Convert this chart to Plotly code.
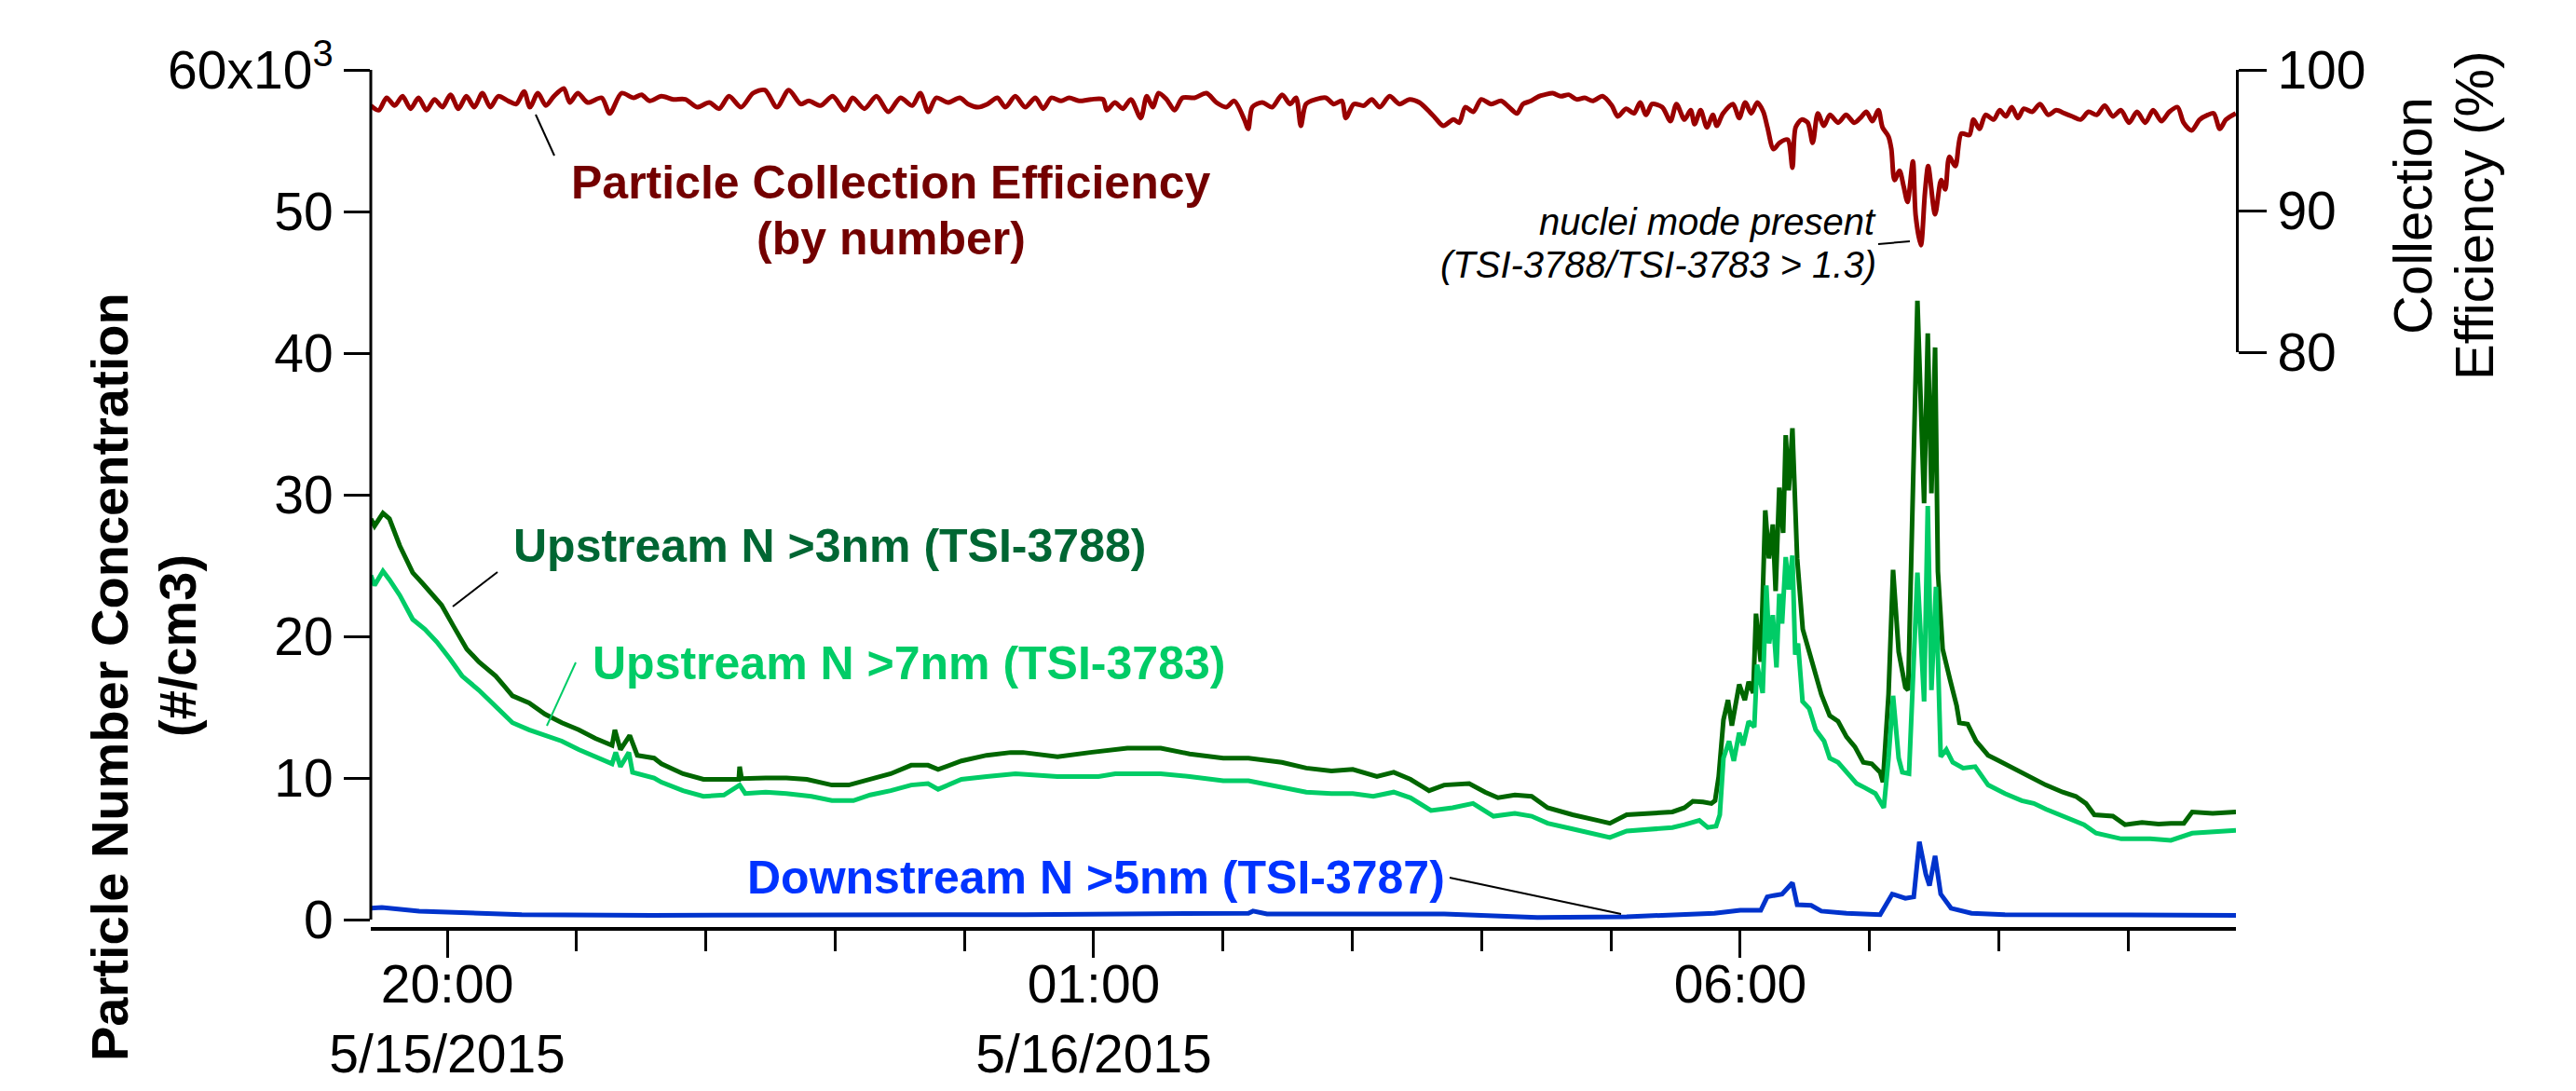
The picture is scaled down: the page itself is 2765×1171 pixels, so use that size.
import pandas as pd
import plotly.graph_objects as go

# ---------------- data (time = minutes after 2015-05-15 20:00) ----------------
T0 = pd.Timestamp("2015-05-15 20:00:00")

eff_min = [-35.4, -31.8, -28.1, -24.4, -20.7, -17.0, -13.3, -9.6, -5.9, -2.2, 1.5, 5.2, 8.9, 12.6, 16.3,
           20.0, 23.7, 28.3, 32.0, 35.7, 38.4, 42.1, 45.8, 49.5, 54.1, 56.9, 60.6, 65.2, 71.7, 75.4, 80.9,
           86.5, 90.2, 93.9, 99.4, 104.9, 110.5, 116.0, 121.6, 126.2, 130.8, 136.4, 141.9, 147.4, 153.0,
           158.5, 164.1, 167.8, 173.3, 178.9, 184.4, 188.1, 193.6, 199.2, 204.7, 210.3, 215.8, 219.5,
           223.2, 226.9, 232.4, 237.9, 241.7, 246.3, 250.7, 255.3, 259.0, 263.6, 268.2, 272.9, 276.6,
           280.3, 284.9, 288.6, 293.2, 298.7, 304.3, 306.1, 309.8, 313.5, 317.2, 321.8, 324.6, 327.4,
           330.1, 333.8, 337.5, 341.2, 346.8, 352.3, 356.9, 361.5, 365.2, 369.9, 371.7, 373.6, 378.2,
           382.8, 387.4, 391.1, 393.9, 396.1, 398.5, 403.1, 407.7, 411.4, 415.1, 417.0, 420.7, 425.3,
           429.0, 432.7, 437.3, 441.9, 446.5, 451.1, 455.8, 458.5, 462.2, 466.9, 469.6, 472.4, 476.1,
           479.8, 484.4, 489.0, 492.7, 496.4, 499.2, 502.9, 506.6, 509.3, 513.0, 516.7, 520.4, 524.1,
           527.8, 531.5, 536.1, 540.4, 543.2, 547.0, 550.7, 553.5, 556.3, 559.1, 563.8, 567.6, 570.4,
           574.1, 577.0, 578.8, 581.6, 584.5, 587.3, 589.1, 592.0, 596.6, 599.5, 602.3, 605.1, 607.9,
           610.7, 612.6, 615.4, 618.2, 622.0, 624.2, 625.7, 628.5, 631.3, 633.6, 636.0, 638.8, 641.6,
           645.4, 649.1, 652.9, 655.7, 658.5, 661.3, 664.1, 666.0, 668.8, 670.1, 671.6, 673.9, 675.8,
           677.6, 680.1, 681.4, 683.8, 685.7, 687.2, 690.4, 693.2, 695.1, 697.0, 699.8, 702.6, 706.3,
           708.2, 711.0, 713.8, 717.6, 720.4, 723.2, 726.0, 728.8, 731.6, 735.4, 739.1, 742.9, 746.6,
           750.4, 754.1, 757.9, 761.6, 765.4, 769.1, 772.9, 776.6, 780.4, 784.1, 787.9, 791.6, 795.4,
           799.1, 802.9, 805.7, 809.4, 813.2, 816.9, 819.7, 822.5, 825.4, 829.9]
eff_pct = [97.47, 97.14, 98.02, 97.47, 98.13, 97.25, 98.02, 97.14, 97.91, 97.36, 98.24, 97.25, 98.13, 97.36,
           98.35, 97.36, 98.13, 97.80, 97.58, 98.46, 97.36, 98.35, 97.47, 98.13, 98.68, 97.69, 98.35,
           97.69, 98.02, 96.92, 98.35, 98.02, 98.24, 97.80, 98.13, 97.91, 97.91, 97.36, 97.69, 97.25,
           98.13, 97.36, 98.35, 98.57, 97.36, 98.57, 97.58, 97.80, 97.47, 98.13, 97.14, 98.02, 97.25,
           98.13, 97.03, 98.02, 97.47, 98.35, 97.03, 98.02, 97.69, 98.02, 97.58, 97.36, 97.58, 98.02,
           97.36, 98.13, 97.36, 98.02, 97.25, 98.02, 97.80, 98.02, 97.80, 97.91, 97.91, 97.14, 97.69,
           97.25, 97.91, 96.59, 98.13, 97.36, 98.35, 97.91, 97.14, 98.02, 98.02, 98.35, 97.69, 97.36,
           97.80, 96.48, 95.82, 97.36, 97.69, 97.36, 98.24, 97.58, 98.02, 96.04, 97.58, 97.91, 98.02,
           97.58, 97.80, 96.59, 97.58, 97.47, 97.91, 97.36, 98.13, 97.58, 97.91, 97.69, 97.03, 96.59,
           96.04, 96.48, 96.26, 97.36, 97.03, 97.91, 97.58, 97.80, 97.36, 96.92, 97.58, 97.80, 98.13,
           98.24, 98.35, 98.13, 98.24, 97.91, 98.02, 97.80, 98.13, 97.47, 96.70, 97.25, 96.92, 97.69,
           96.81, 97.58, 97.36, 96.37, 97.58, 96.48, 97.14, 96.15, 97.14, 95.93, 96.81, 96.04, 96.92,
           97.58, 96.59, 97.69, 96.92, 97.69, 97.03, 95.93, 94.39, 94.83, 95.05, 93.07, 95.93, 96.48,
           96.26, 94.83, 96.92, 96.04, 96.81, 96.26, 96.81, 96.26, 96.59, 97.03, 96.37, 97.14, 95.93,
           95.27, 94.39, 92.19, 92.85, 91.75, 90.65, 93.51, 89.66, 87.57, 91.31, 93.18, 89.77, 92.19,
           91.53, 93.84, 93.18, 95.49, 95.38, 96.48, 95.82, 96.81, 96.48, 97.14, 96.70, 97.36, 96.59,
           97.25, 97.03, 97.58, 96.81, 97.14, 96.92, 96.70, 96.48, 97.03, 96.81, 97.47, 96.70, 97.14,
           96.26, 97.03, 96.26, 97.14, 96.37, 97.03, 97.36, 96.26, 95.71, 96.48, 96.81, 96.92, 95.82,
           96.48, 96.92]

up3_min = [-35.4, -33.7, -29.8, -26.8, -22.0, -16.0, -11.2, -6.5, -2.6, 3.0, 9.1, 14.7, 22.5, 26.4, 30.3,
           38.0, 45.4, 53.2, 61.0, 68.7, 76.5, 77.8, 80.4, 84.7, 88.2, 96.0, 99.4, 109.4, 118.9, 128.4,
           135.3, 135.7, 136.6, 147.8, 157.4, 166.9, 178.5, 186.3, 196.3, 205.8, 215.3, 223.1, 227.8,
           238.6, 250.3, 261.5, 267.2, 283.2, 298.3, 315.6, 331.1, 344.5, 360.1, 371.8, 387.3, 398.6,
           410.3, 420.2, 431.4, 439.2, 447.0, 455.6, 462.6, 474.2, 481.6, 487.6, 495.4, 503.2, 510.6,
           522.2, 533.9, 539.5, 547.3, 559.0, 568.5, 574.1, 578.0, 582.7, 586.6, 588.3, 590.0, 592.2,
           594.3, 596.1, 599.5, 602.1, 603.9, 606.0, 607.3, 609.5, 611.6, 613.3, 615.1, 616.4, 618.1,
           619.9, 621.1, 622.5, 624.2, 626.4, 629.0, 632.0, 635.0, 637.6, 641.5, 645.4, 649.3, 653.2,
           657.1, 661.0, 664.9, 666.2, 668.8, 670.9, 673.5, 676.6, 677.9, 680.1, 682.2, 685.3, 687.0,
           688.7, 690.4, 691.7, 693.9, 697.4, 700.4, 701.7, 705.5, 709.4, 715.0, 718.9, 722.8, 730.6,
           736.2, 741.8, 749.6, 755.7, 760.4, 764.3, 772.9, 778.5, 786.4, 794.1, 799.8, 805.8, 809.7,
           819.2, 830.0]
up3_conc = [28.3, 27.8, 28.7, 28.3, 26.4, 24.5, 23.7, 22.9, 22.2, 20.7, 19.1, 18.2, 17.2, 16.5, 15.8,
            15.3, 14.5, 13.9, 13.4, 12.8, 12.3, 13.4, 12.0, 13.0, 11.6, 11.4, 11.0, 10.3, 9.9, 9.9,
            9.9, 10.8, 9.95, 10.0, 10.0, 9.9, 9.5, 9.5, 9.9, 10.3, 10.9, 10.9, 10.6,
            11.2, 11.6, 11.8, 11.8, 11.5, 11.8, 12.1, 12.1, 11.7, 11.4, 11.4, 11.1, 10.7,
            10.5, 10.6, 10.1, 10.4, 9.9, 9.1, 9.5, 9.6, 9.0, 8.6, 8.8, 8.7, 7.9,
            7.4, 7.0, 6.8, 7.4, 7.5, 7.6, 7.9, 8.35, 8.3, 8.2, 8.4, 10.1, 14.1,
            15.5, 13.7, 16.6, 15.5, 16.8, 16.0, 21.6, 18.2, 28.9, 25.5, 27.9, 23.2, 30.5,
            27.3, 34.2, 30.3, 34.7, 25.5, 20.5, 18.9, 17.2, 15.9, 14.4, 14.0, 12.9, 12.2,
            11.1, 11.0, 10.4, 9.7, 15.9, 24.7, 18.9, 16.4, 16.2, 31.2, 43.7, 29.4, 41.4,
            30.1, 40.4, 24.6, 19.1, 16.9, 15.1, 13.9, 13.8, 12.6, 11.6, 11.3, 11.0, 10.4,
            9.9, 9.5, 9.0, 8.7, 8.2, 7.4, 7.3, 6.7, 6.85, 6.75, 6.8, 6.8, 7.6,
            7.5, 7.6]

up7_min = [-35.4, -33.7, -29.8, -26.8, -22.0, -16.0, -10.4, -4.8, 1.3, 6.9, 14.7, 22.5, 30.3, 38.0, 45.4,
           53.2, 61.0, 68.7, 76.5, 78.2, 80.4, 84.3, 86.0, 96.0, 99.4, 109.4, 118.9, 128.4, 135.7, 138.3,
           147.8, 157.4, 169.0, 178.5, 188.5, 196.3, 205.8, 215.3, 223.1, 227.8, 238.6, 250.3, 261.5,
           263.7, 283.2, 302.2, 310.0, 331.1, 344.5, 360.1, 371.8, 387.3, 398.6, 410.3, 420.2, 429.7,
           439.2, 447.0, 456.5, 466.5, 476.0, 485.5, 495.4, 503.2, 510.6, 522.2, 533.9, 539.5, 547.3,
           559.0, 568.5, 574.1, 581.0, 584.9, 588.8, 590.5, 592.2, 594.8, 597.0, 599.5, 601.3, 603.9,
           606.5, 607.8, 610.4, 612.1, 613.4, 615.1, 616.8, 618.1, 619.4, 621.1, 622.5, 624.2, 625.5,
           626.8, 628.9, 632.0, 635.0, 638.9, 641.5, 645.4, 649.3, 654.0, 657.9, 662.7, 666.6, 668.8,
           670.9, 673.5, 675.2, 678.3, 682.2, 685.3, 687.0, 688.7, 690.8, 693.0, 695.6, 698.6, 703.4,
           709.0, 715.0, 722.8, 730.6, 736.2, 741.8, 751.7, 759.5, 765.1, 776.8, 790.2, 799.8, 809.7,
           819.2, 830.0]
up7_conc = [24.3, 23.6, 24.6, 24.0, 22.9, 21.2, 20.5, 19.6, 18.4, 17.2, 16.2, 15.0, 13.9, 13.4, 13.0,
            12.6, 12.0, 11.5, 11.0, 11.8, 10.8, 11.8, 10.4, 10.0, 9.7, 9.1, 8.7, 8.8, 9.5, 8.9,
            9.0, 8.9, 8.7, 8.4, 8.4, 8.8, 9.1, 9.5, 9.6, 9.2, 9.9, 10.1, 10.2,
            10.3, 10.1, 10.1, 10.3, 10.3, 10.1, 9.8, 9.8, 9.3, 9.0, 8.9, 8.9, 8.7,
            9.0, 8.6, 7.7, 7.9, 8.2, 7.3, 7.5, 7.3, 6.8, 6.4, 6.0, 5.8, 6.25,
            6.4, 6.5, 6.7, 7.0, 6.5, 6.6, 7.4, 11.4, 12.6, 11.2, 13.2, 12.3, 14.0,
            13.6, 18.0, 16.0, 23.6, 19.5, 21.5, 17.8, 23.0, 20.9, 25.6, 23.3, 25.7, 18.7,
            19.5, 15.4, 14.9, 13.4, 12.6, 11.4, 11.1, 10.4, 9.6, 9.3, 8.9, 7.9, 11.4,
            15.8, 11.4, 10.4, 10.3, 24.5, 15.4, 29.2, 16.2, 23.5, 11.5, 12.0, 11.1, 10.7,
            10.8, 9.5, 8.9, 8.4, 8.2, 7.8, 7.2, 6.7, 6.1, 5.7, 5.7, 5.6, 6.1,
            6.2, 6.3]

dn5_min = [-35.4, -30.3, -13.0, 8.6, 34.6, 95.1, 181.6, 268.0, 371.8, 373.9, 380.4, 440.9, 462.6, 505.8,
           527.4, 547.3, 588.0, 600.0, 609.5, 612.5, 615.5, 619.4, 624.2, 626.4, 632.9, 637.6, 649.3,
           664.9, 670.5, 676.6, 680.5, 683.1, 686.1, 687.8, 690.4, 693.0, 697.8, 707.3, 722.8, 830.0]
dn5_conc = [0.8, 0.85, 0.6, 0.45, 0.35, 0.3, 0.3, 0.35, 0.45, 0.6, 0.4, 0.35, 0.4, 0.15,
            0.15, 0.2, 0.45, 0.65, 0.65, 1.6, 1.7, 1.8, 2.6, 1.05, 1.0, 0.6, 0.45,
            0.35, 1.8, 1.5, 1.6, 5.5, 3.2, 2.4, 4.5, 1.8, 0.8, 0.45, 0.35, 0.3]

x_ticks_min = [0, 300, 600]
x_tick_text = ["20:00<br>5/15/2015", "01:00<br>5/16/2015", "06:00"]
x_minor_min = list(range(0, 841, 60))
x_range_min = [-35.45, 830.0]
y_ticks = [0, 10, 20, 30, 40, 50, 60]
y_tick_text = ["0", "10", "20", "30", "40", "50", "60x10<sup>3</sup>"]
eff_ticks = [80, 90, 100]


def tt(mins):
    return T0 + pd.to_timedelta(pd.Series(mins, dtype=float), unit="m")


# ---------------- geometry (pixels) ----------------
W, H = 2765, 1171
L, R, T, B = 398, 2400, 75, 995
FONT = "Liberation Sans, Arial, sans-serif"


def px(x):
    return (x - L) / (R - L)


def py(y):
    return (B - y) / (B - T)


DKG, LTG, BLU, RED = "#006600", "#00CC66", "#0033CC", "#990000"

fig = go.Figure()
fig.add_trace(go.Scatter(x=tt(eff_min), y=eff_pct, yaxis="y2", mode="lines",
                         line=dict(color=RED, width=5, shape="spline", smoothing=0.8),
                         name="Collection efficiency"))
fig.add_trace(go.Scatter(x=tt(up3_min), y=up3_conc, mode="lines",
                         line=dict(color=DKG, width=5), name="Upstream N >3nm"))
fig.add_trace(go.Scatter(x=tt(up7_min), y=up7_conc, mode="lines",
                         line=dict(color=LTG, width=5), name="Upstream N >7nm"))
fig.add_trace(go.Scatter(x=tt(dn5_min), y=dn5_conc, mode="lines",
                         line=dict(color=BLU, width=5), name="Downstream N >5nm"))

annotations = []


def label(text, x, y, size, color, xanchor="center", angle=0):
    annotations.append(dict(text=text, x=px(x), y=py(y), xref="paper", yref="paper",
                            showarrow=False, xanchor=xanchor, yanchor="middle",
                            textangle=angle, font=dict(size=size, color=color, family=FONT)))


label("<b>Particle Collection Efficiency</b>", 956, 196, 50, "#730000")
label("<b>(by number)</b>", 956, 256, 50, "#730000")
label("<b>Upstream N >3nm (TSI-3788)</b>", 890, 586, 50, "#006633")
label("<b>Upstream N >7nm (TSI-3783)</b>", 975, 712, 50, LTG)
label("<b>Downstream N >5nm (TSI-3787)</b>", 1176, 942, 50, "#0033FF")
label("<i>nuclei mode present</i>", 2016, 238, 40, "black", xanchor="right")
label("<i>(TSI-3788/TSI-3783 > 1.3)</i>", 2016, 284, 40, "black", xanchor="right")
label("<b>Particle Number Concentration</b>", 117, 727, 56, "black", angle=-90)
label("<b>(#/cm3)</b>", 190, 693, 56, "black", angle=-90)
label("Collection", 2590, 232, 58, "black", angle=-90)
label("Efficiency (%)", 2656, 232, 58, "black", angle=-90)

shapes = []


def seg(x0, y0, x1, y1, color="black", width=2):
    shapes.append(dict(type="line", xref="paper", yref="paper", x0=px(x0), y0=py(y0),
                       x1=px(x1), y1=py(y1), line=dict(color=color, width=width)))


seg(595, 167, 575, 123)
seg(534, 614, 486, 651)
seg(618, 711, 587, 779, color=LTG)
seg(1556, 942, 1740, 981)
seg(2016, 262, 2050, 259)
# left axis spine from 0 to 60
shapes.append(dict(type="line", xref="paper", yref="y", x0=0, x1=0, y0=0, y1=60,
                    line=dict(color="black", width=3)))

fig.update_layout(
    width=W, height=H,
    margin=dict(l=L, r=W - R, t=T, b=H - B, pad=0, autoexpand=False),
    paper_bgcolor="white", plot_bgcolor="rgba(0,0,0,0)",
    showlegend=False,
    font=dict(family=FONT, size=57, color="black"),
    annotations=annotations, shapes=shapes,
    xaxis=dict(type="date", range=list(tt(x_range_min)), showgrid=False, zeroline=False,
               automargin=False,
               showline=True, linecolor="black", linewidth=4,
               tickmode="array", tickvals=list(tt(x_ticks_min)), ticktext=x_tick_text,
               ticks="outside", ticklen=29, tickwidth=3, tickcolor="black",
               ticklabelstandoff=-20,
               tickfont=dict(size=57, family=FONT, color="black"),
               minor=dict(tickmode="array", tickvals=list(tt(x_minor_min)), ticks="outside",
                          ticklen=22, tickwidth=3, tickcolor="black", showgrid=False)),
    yaxis=dict(range=[-8 / 15.2, 60], showgrid=False, zeroline=False, showline=False,
               automargin=False,
               tickmode="array", tickvals=y_ticks, ticktext=y_tick_text,
               ticks="outside", ticklen=28, tickwidth=3, tickcolor="black",
               tickfont=dict(size=57, family=FONT, color="black")),
    yaxis2=dict(domain=[py(378), 1], range=[80, 100], anchor="x", side="right",
                automargin=False,
                showgrid=False, zeroline=False, showline=True, linecolor="black", linewidth=3,
                tickmode="array", tickvals=eff_ticks,
                ticks="outside", ticklen=30, tickwidth=3, tickcolor="black",
                tickfont=dict(size=57, family=FONT, color="black")),
)

fig.write_html("out.html", config=dict(displayModeBar=False))
